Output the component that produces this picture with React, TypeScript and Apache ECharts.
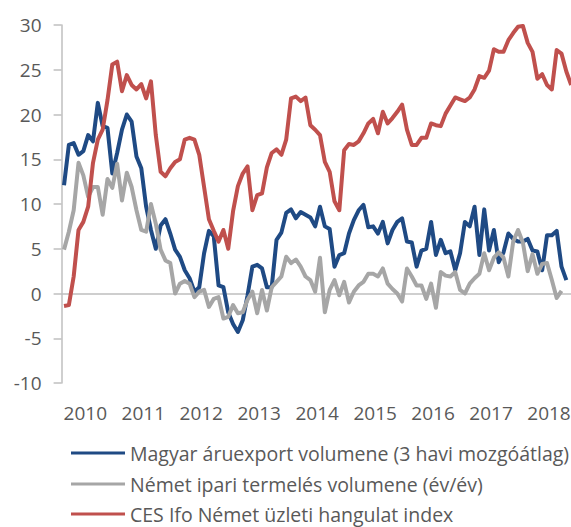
import React, { useEffect, useRef } from "react";
import * as echarts from "echarts";

const years = [2010, 2011, 2012, 2013, 2014, 2015, 2016, 2017, 2018];
const months = years.flatMap((y) =>
  Array.from({ length: 12 }, (_, m) => `${y}-${String(m + 1).padStart(2, "0")}`)
);

const seriesNames = [
  "Magyar áruexport volumene (3 havi mozgóátlag)",
  "Német ipari termelés volumene (év/év)",
  "CES Ifo Német üzleti hangulat index",
];

const hungarianExport = [
  12.1, 16.6, 16.8, 15.5, 15.9, 17.7, 17.0, 21.3, 18.7, 18.5, 13.4, 15.7,
  18.3, 20.0, 19.2, 15.3, 14.0, 9.7, 7.1, 5.0, 7.6, 8.3, 6.7, 4.9,
  4.1, 2.6, 1.7, 0.2, 0.7, 4.5, 7.0, 6.4, 0.9, 0.7, -2.1, -3.4,
  -4.3, -3.0, -0.2, 3.0, 3.2, 2.8, 0.7, 0.7, 6.0, 6.8, 9.0, 9.4,
  8.4, 9.1, 8.8, 8.5, 7.5, 9.7, 7.5, 7.2, 3.0, 4.3, 4.5, 6.7,
  8.2, 9.3, 9.9, 7.4, 7.5, 6.7, 8.0, 5.6, 7.1, 8.0, 8.4, 5.8,
  5.7, 3.0, 4.8, 5.0, 8.0, 4.3, 6.0, 4.5, 4.7, 2.6, 4.5, 8.0,
  7.5, 9.7, 4.3, 9.4, 4.8, 7.1, 3.5, 4.6, 6.7, 6.1, 5.8, 5.8,
  6.1, 4.8, 4.7, 2.6, 6.5, 6.5, 7.0, 3.0, 1.5,
];

const germanIndustry = [
  4.9, 6.9, 9.3, 14.6, 13.2, 10.8, 11.9, 11.9, 8.8, 12.8, 11.8, 14.5,
  10.4, 13.5, 11.9, 9.3, 7.1, 6.9, 10.0, 7.8, 4.9, 3.7, 3.4, 0.0,
  1.1, 1.4, 1.1, -0.4, 0.2, 0.4, -1.5, -0.6, -0.4, -2.8, -2.6, -1.3,
  -2.2, -2.1, -0.7, 0.2, -2.2, 0.4, -1.9, 0.7, 1.3, 1.9, 4.1, 3.4,
  3.8, 3.0, 1.9, 1.5, 0.2, 4.0, -2.1, 0.4, 1.5, -0.2, 1.3, -1.0,
  0.2, 0.9, 1.3, 2.2, 2.2, 1.9, 2.8, 1.1, 0.5, 0.0, -0.9, 2.8,
  1.9, 0.9, 0.9, -0.6, 1.1, -1.6, 2.4, 2.0, 1.9, 2.4, 0.4, 0.0,
  1.1, 1.7, 2.2, 4.5, 2.6, 4.0, 4.6, 4.0, 1.9, 5.8, 7.1, 5.7,
  2.5, 4.4, 2.2, 3.3, 3.4, 1.5, -0.5, 0.3,
];

const ifoIndex = [
  -1.4, -1.3, 1.9, 7.1, 8.0, 9.7, 14.6, 17.2, 18.3, 21.6, 25.6, 25.9,
  22.6, 24.4, 23.3, 22.8, 23.4, 21.8, 23.7, 17.7, 13.6, 13.1, 14.0, 14.7,
  15.0, 17.2, 17.4, 17.2, 15.5, 11.9, 8.3, 7.0, 5.8, 7.1, 5.0, 9.2,
  12.0, 13.4, 14.2, 9.3, 11.0, 11.2, 14.1, 15.7, 16.1, 15.5, 17.2, 21.8,
  22.0, 21.5, 21.9, 18.8, 18.3, 17.7, 14.7, 13.6, 10.3, 9.3, 16.0, 16.7,
  16.6, 17.0, 17.9, 19.0, 19.5, 17.9, 20.3, 19.0, 19.6, 20.3, 21.1, 18.3,
  16.6, 16.6, 17.4, 17.4, 19.0, 18.8, 18.7, 20.1, 21.0, 21.9, 21.7, 21.5,
  21.9, 22.8, 24.3, 24.1, 24.9, 27.3, 27.0, 27.0, 28.3, 29.1, 29.8, 29.9,
  28.0, 27.0, 24.0, 24.5, 23.3, 22.8, 27.2, 26.8, 24.8, 23.3,
];

const colors = ["#1F4A84", "#A6A6A6", "#C0504D"];
const yTicks = { min: -10, max: 30, interval: 5 };

const FONT = "'Open Sans', 'Noto Sans', sans-serif";
const TEXT_COLOR = "#595959";
const AXIS_COLOR = "#BFBFBF";

export default function App() {
  const ref = useRef<HTMLDivElement>(null);

  useEffect(() => {
    if (!ref.current) return;
    const chart = echarts.init(ref.current, null, { renderer: "svg" });
    const band = 4.83;
    const legendCenters = [453, 484, 514];
    chart.setOption({
      animation: false,
      textStyle: { fontFamily: FONT },
      grid: { left: 61.6, top: 25, height: 358, width: band * months.length },
      xAxis: [
        {
          type: "category",
          data: months,
          boundaryGap: true,
          position: "bottom",
          axisLine: { show: false, onZero: false },
          axisTick: { show: false },
          axisLabel: {
            interval: (idx: number) => idx % 12 === 4,
            formatter: (v: string) => v.slice(0, 4),
            margin: 20,
            fontSize: 19,
            color: TEXT_COLOR,
            fontFamily: FONT,
            padding: [0, 0, 0, 4],
          },
          splitLine: { show: false },
        },
        {
          type: "category",
          data: months,
          boundaryGap: true,
          position: "bottom",
          axisLine: { show: true, onZero: true, lineStyle: { color: AXIS_COLOR, width: 1.5 } },
          axisTick: { show: false },
          axisLabel: { show: false },
          splitLine: { show: false },
        },
      ],
      yAxis: {
        type: "value",
        min: yTicks.min,
        max: yTicks.max,
        interval: yTicks.interval,
        axisLine: { show: true, lineStyle: { color: AXIS_COLOR, width: 1.5 } },
        axisTick: { show: true, length: 8, inside: false, lineStyle: { color: AXIS_COLOR, width: 1.5 } },
        axisLabel: { margin: 20, fontSize: 19, color: TEXT_COLOR, fontFamily: FONT },
        splitLine: { show: false },
      },
      legend: seriesNames.map((name, i) => ({
        data: [{ name, icon: "rect" }],
        left: 71,
        top: legendCenters[i] - 11,
        padding: 0,
        orient: "vertical",
        itemWidth: 54,
        itemHeight: 3,
        textStyle: { fontSize: 19.5, color: TEXT_COLOR, fontFamily: FONT, lineHeight: 22 },
        selectedMode: false,
      })),
      series: [
        { name: seriesNames[0], data: hungarianExport, color: colors[0] },
        { name: seriesNames[1], data: germanIndustry, color: colors[1] },
        { name: seriesNames[2], data: ifoIndex, color: colors[2] },
      ].map((s) => ({
        ...s,
        type: "line",
        xAxisIndex: 0,
        yAxisIndex: 0,
        symbol: "none",
        lineStyle: { width: 4, color: s.color, join: "round" },
        itemStyle: { color: s.color },
      })),
    });
    return () => chart.dispose();
  }, []);

  return (
    <div
      style={{
        position: "absolute",
        left: 0,
        top: 0,
        width: 571,
        height: 527,
        overflow: "hidden",
        background: "#fff",
      }}
    >
      <div ref={ref} style={{ width: 620, height: 527 }} />
    </div>
  );
}
